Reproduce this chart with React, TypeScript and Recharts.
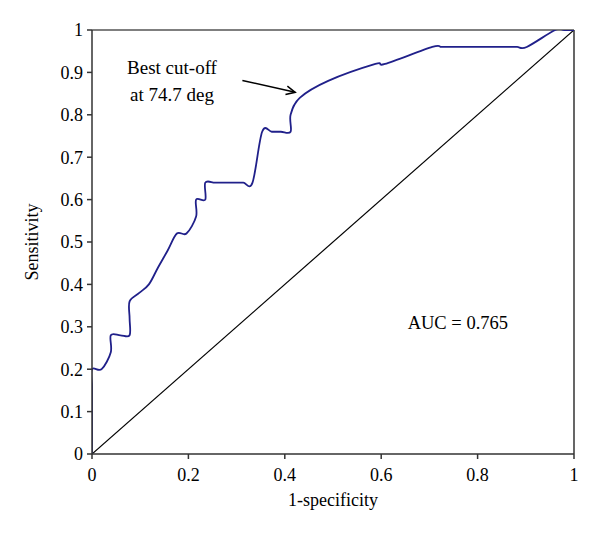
import React from 'react';
import { ComposedChart, Line, XAxis, YAxis, ReferenceLine, ReferenceDot, Label } from 'recharts';

// ROC curve operating points (1 - specificity, sensitivity)
const fprValues = [
  0, 0, 0, 0, 0, 0,
  0.02, 0.039, 0.039, 0.059, 0.078, 0.078, 0.078,
  0.098, 0.118, 0.137, 0.157, 0.176, 0.196, 0.216, 0.216, 0.235, 0.235,
  0.255, 0.275, 0.294, 0.314, 0.333, 0.353,
  0.373, 0.392, 0.412, 0.412, 0.431, 0.49, 0.588, 0.608, 0.706,
  0.725, 0.745, 0.765, 0.784, 0.804, 0.824, 0.843, 0.863, 0.882, 0.902,
  0.961, 0.98, 1,
];
const tprValues = [
  0, 0.04, 0.08, 0.12, 0.16, 0.2,
  0.2, 0.24, 0.28, 0.28, 0.28, 0.32, 0.36,
  0.38, 0.4, 0.44, 0.48, 0.52, 0.52, 0.56, 0.6, 0.6, 0.64,
  0.64, 0.64, 0.64, 0.64, 0.64, 0.76,
  0.76, 0.76, 0.76, 0.8, 0.84, 0.88, 0.92, 0.92, 0.96,
  0.96, 0.96, 0.96, 0.96, 0.96, 0.96, 0.96, 0.96, 0.96, 0.96,
  1, 1, 1,
];

// reference (chance) diagonal
const chanceX = [0, 1];
const chanceY = [0, 1];

const xTicks = [0, 0.2, 0.4, 0.6, 0.8, 1];
const yTicks = [0, 0.1, 0.2, 0.3, 0.4, 0.5, 0.6, 0.7, 0.8, 0.9, 1];

const annotationLines = ['Best cut-off', 'at 74.7 deg'];
const annotationAnchor = { x: 0.166, y: 0.897 };
const arrowFrom = { x: 0.312, y: 0.881 };
const arrowTo = { x: 0.4216, y: 0.853 };
const aucText = 'AUC = 0.765';
const aucAnchor = { x: 0.759, y: 0.295 };

const rocData = fprValues.map((x, i) => ({ x, y: tprValues[i] }));
const chanceData = chanceX.map((x, i) => ({ x, y: chanceY[i] }));

const FONT = '"Liberation Serif", "Times New Roman", serif';

// Catmull-Rom smoothing similar to spreadsheet "smoothed line"
function smoothCurve(context: any) {
  let pts: number[][] = [];
  return {
    areaStart() {},
    areaEnd() {},
    lineStart() {
      pts = [];
    },
    point(x: number, y: number) {
      pts.push([+x, +y]);
    },
    lineEnd() {
      if (!pts.length) return;
      context.moveTo(pts[0][0], pts[0][1]);
      for (let i = 0; i < pts.length - 1; i++) {
        const p0 = pts[i - 1] || pts[i];
        const p1 = pts[i];
        const p2 = pts[i + 1];
        const p3 = pts[i + 2] || p2;
        context.bezierCurveTo(
          p1[0] + (p2[0] - p0[0]) / 6,
          p1[1] + (p2[1] - p0[1]) / 6,
          p2[0] - (p3[0] - p1[0]) / 6,
          p2[1] - (p3[1] - p1[1]) / 6,
          p2[0],
          p2[1]
        );
      }
    },
  };
}

const fmt = (v: number) => String(+Number(v).toFixed(1));

const ArrowShape = (props: any) => {
  const { x1, y1, x2, y2 } = props;
  const ang = Math.atan2(y2 - y1, x2 - x1);
  const len = 10;
  const spread = 0.45;
  const ax = x2 - len * Math.cos(ang - spread);
  const ay = y2 - len * Math.sin(ang - spread);
  const bx = x2 - len * Math.cos(ang + spread);
  const by = y2 - len * Math.sin(ang + spread);
  return (
    <g>
      <line x1={x1} y1={y1} x2={x2} y2={y2} stroke="#000" strokeWidth={1.5} />
      <polyline points={`${ax},${ay} ${x2},${y2} ${bx},${by}`} fill="none" stroke="#000" strokeWidth={1.5} />
    </g>
  );
};

const AnnotationShape = (props: any) => {
  const { cx, cy } = props;
  return (
    <text x={cx} y={cy} textAnchor="middle" fontFamily={FONT} fontSize={19} fill="#000">
      {annotationLines.map((t, i) => (
        <tspan key={i} x={cx} dy={i === 0 ? 0 : 27}>
          {t}
        </tspan>
      ))}
    </text>
  );
};

const AucShape = (props: any) => {
  const { cx, cy } = props;
  return (
    <text x={cx} y={cy} textAnchor="middle" fontFamily={FONT} fontSize={18.5} fill="#000">
      {aucText}
    </text>
  );
};

const YLabel = (props: any) => {
  const vb = props.viewBox || {};
  const cx = vb.x + 20;
  const cy = vb.y + vb.height / 2;
  return (
    <text
      x={cx}
      y={cy}
      transform={`rotate(-90 ${cx} ${cy})`}
      textAnchor="middle"
      dominantBaseline="central"
      fontFamily={FONT}
      fontSize={18}
      fill="#000"
    >
      Sensitivity
    </text>
  );
};

const XLabel = (props: any) => {
  const vb = props.viewBox || {};
  const cx = vb.x + vb.width / 2;
  const cy = vb.y + 51.5;
  return (
    <text x={cx} y={cy} textAnchor="middle" fontFamily={FONT} fontSize={18} fill="#000">
      1-specificity
    </text>
  );
};

const tickStyle = { fontFamily: FONT, fontSize: 18, fill: '#000' };

export default function App() {
  return (
    <ComposedChart width={584} height={519} margin={{ top: 22, right: 18, bottom: 13, left: 4 }}>
      <XAxis
        type="number"
        dataKey="x"
        domain={[0, 1]}
        ticks={xTicks}
        tickFormatter={fmt}
        allowDataOverflow
        height={60}
        tickSize={5}
        tickMargin={9}
        tick={tickStyle}
        stroke="#333"
        axisLine={{ stroke: '#333', strokeWidth: 1.5 }}
        tickLine={{ stroke: '#333', strokeWidth: 1.5 }}
        label={<Label content={XLabel} />}
      />
      <YAxis
        type="number"
        dataKey="y"
        domain={[0, 1]}
        ticks={yTicks}
        tickFormatter={fmt}
        allowDataOverflow
        width={80}
        tickSize={5}
        tickMargin={4}
        tick={tickStyle}
        stroke="#333"
        axisLine={{ stroke: '#333', strokeWidth: 1.5 }}
        tickLine={{ stroke: '#333', strokeWidth: 1.5 }}
        label={<Label content={YLabel} />}
      />
      <ReferenceLine y={1} stroke="#000" strokeWidth={1.2} />
      <ReferenceLine x={1} stroke="#000" strokeWidth={1.2} />
      <Line
        data={chanceData}
        dataKey="y"
        type="linear"
        stroke="#000"
        strokeWidth={1.2}
        dot={false}
        activeDot={false}
        isAnimationActive={false}
      />
      <Line
        data={rocData}
        dataKey="y"
        type={smoothCurve as any}
        stroke="#20208a"
        strokeWidth={1.8}
        dot={false}
        activeDot={false}
        isAnimationActive={false}
      />
      <ReferenceLine
        segment={[arrowFrom, arrowTo]}
        shape={ArrowShape}
        ifOverflow="visible"
      />
      <ReferenceDot x={annotationAnchor.x} y={annotationAnchor.y} r={0} shape={AnnotationShape} ifOverflow="visible" />
      <ReferenceDot x={aucAnchor.x} y={aucAnchor.y} r={0} shape={AucShape} ifOverflow="visible" />
    </ComposedChart>
  );
}
